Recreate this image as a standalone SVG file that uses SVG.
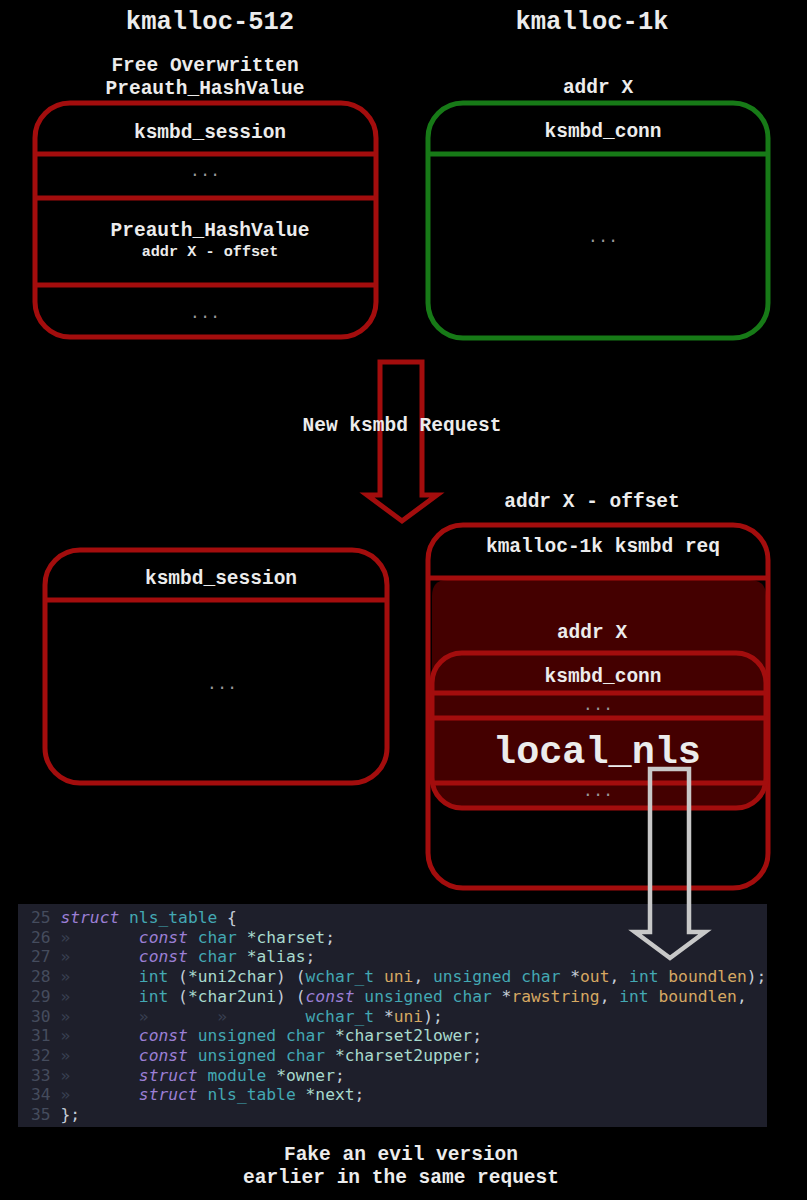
<svg xmlns="http://www.w3.org/2000/svg" width="807" height="1200" viewBox="0 0 807 1200">
<style>
.t{font-family:"Liberation Mono","Courier New",monospace;font-weight:bold;fill:#ececec;text-anchor:middle;font-size:19.5px}
.title{font-size:25.5px}
.sm{font-size:15.2px}
.big{font-size:38.5px}
.dots{font-family:"Liberation Mono",monospace;font-size:17px;fill:#9a9a9a;text-anchor:middle}
.red{fill:none;stroke:#a30d0d;stroke-width:5}
.grn{fill:none;stroke:#177a17;stroke-width:5}
.code{font-family:"DejaVu Sans Mono",monospace;font-size:16.3px;white-space:pre}
.ln{fill:#454c5d}
.tb{fill:#394052}
.kw{fill:#9c7fd6;font-style:italic}
.ty{fill:#43a8b3}
.id{fill:#a9dace}
.pu{fill:#c5cdd8}
.pa{fill:#d6a862}
</style>
<rect x="0" y="0" width="807" height="1200" fill="#000"/>

<text class="t title" x="210" y="29">kmalloc-512</text>
<text class="t title" x="592" y="29">kmalloc-1k</text>

<g id="slab512">
<text class="t" x="205" y="71">Free Overwritten</text>
<text class="t" x="205" y="94">Preauth_HashValue</text>
<rect class="red" x="35" y="103" width="341" height="234" rx="35"/>
<line class="red" x1="35" y1="154" x2="376" y2="154"/>
<line class="red" x1="35" y1="198" x2="376" y2="198"/>
<line class="red" x1="35" y1="285" x2="376" y2="285"/>
<text class="t" x="210" y="138">ksmbd_session</text>
<text class="dots" x="205" y="176">...</text>
<text class="t" x="210" y="236">Preauth_HashValue</text>
<text class="t sm" x="210" y="256">addr X - offset</text>
<text class="dots" x="205" y="318">...</text>
</g>

<g id="slab1k">
<text class="t" x="598" y="93">addr X</text>
<rect class="grn" x="428" y="103" width="340" height="235" rx="35"/>
<line class="grn" x1="428" y1="154" x2="768" y2="154"/>
<text class="t" x="603" y="137">ksmbd_conn</text>
<text class="dots" x="603" y="242">...</text>
</g>

<g id="session-after">
<rect class="red" x="45" y="550" width="342" height="233" rx="35"/>
<line class="red" x1="45" y1="600" x2="387" y2="600"/>
<text class="t" x="221" y="584">ksmbd_session</text>
<text class="dots" x="222" y="689">...</text>
</g>

<g id="request1k">
<text class="t" x="592" y="507">addr X - offset</text>
<path d="M447,580 H750 Q766,580 766,596 V778 Q766,808 736,808 H462 Q432,808 432,778 V596 Q432,580 447,580 Z" fill="#440000"/>
<rect class="red" x="428" y="525" width="340" height="363" rx="35"/>
<line class="red" x1="428" y1="578" x2="768" y2="578"/>
<rect class="red" x="432" y="653" width="334" height="155" rx="30"/>
<line class="red" x1="432" y1="693" x2="766" y2="693"/>
<line class="red" x1="432" y1="718" x2="766" y2="718"/>
<line class="red" x1="432" y1="783" x2="766" y2="783"/>
<text class="t" x="603" y="552">kmalloc-1k ksmbd req</text>
<text class="t" x="592" y="638">addr X</text>
<text class="t" x="603" y="682">ksmbd_conn</text>
<text class="dots" x="598" y="710">...</text>
<text class="t big" x="597" y="763">local_nls</text>
<text class="dots" x="598" y="796">...</text>
</g>

<g id="code">
<rect x="18" y="904" width="749" height="223" fill="#1e1f2b"/>
<g class="code">
<text xml:space="preserve" x="31" y="923"><tspan class="ln">25 </tspan><tspan class="kw">struct</tspan><tspan class="pu"> </tspan><tspan class="ty">nls_table</tspan><tspan class="pu"> {</tspan></text>
<text xml:space="preserve" x="31" y="942.7"><tspan class="ln">26 </tspan><tspan class="tb">»       </tspan><tspan class="kw">const</tspan> <tspan class="ty">char</tspan> <tspan class="id">*charset</tspan><tspan class="pu">;</tspan></text>
<text xml:space="preserve" x="31" y="962.4"><tspan class="ln">27 </tspan><tspan class="tb">»       </tspan><tspan class="kw">const</tspan> <tspan class="ty">char</tspan> <tspan class="id">*alias</tspan><tspan class="pu">;</tspan></text>
<text xml:space="preserve" x="31" y="982.1"><tspan class="ln">28 </tspan><tspan class="tb">»       </tspan><tspan class="ty">int</tspan><tspan class="pu"> (</tspan><tspan class="id">*uni2char</tspan><tspan class="pu">) (</tspan><tspan class="ty">wchar_t</tspan> <tspan class="pa">uni</tspan><tspan class="pu">, </tspan><tspan class="ty">unsigned char</tspan><tspan class="pu"> *</tspan><tspan class="pa">out</tspan><tspan class="pu">, </tspan><tspan class="ty">int</tspan> <tspan class="pa">boundlen</tspan><tspan class="pu">);</tspan></text>
<text xml:space="preserve" x="31" y="1001.8"><tspan class="ln">29 </tspan><tspan class="tb">»       </tspan><tspan class="ty">int</tspan><tspan class="pu"> (</tspan><tspan class="id">*char2uni</tspan><tspan class="pu">) (</tspan><tspan class="kw">const</tspan> <tspan class="ty">unsigned char</tspan><tspan class="pu"> *</tspan><tspan class="pa">rawstring</tspan><tspan class="pu">, </tspan><tspan class="ty">int</tspan> <tspan class="pa">boundlen</tspan><tspan class="pu">,</tspan></text>
<text xml:space="preserve" x="31" y="1021.5"><tspan class="ln">30 </tspan><tspan class="tb">»       »       »        </tspan><tspan class="ty">wchar_t</tspan><tspan class="pu"> *</tspan><tspan class="pa">uni</tspan><tspan class="pu">);</tspan></text>
<text xml:space="preserve" x="31" y="1041.2"><tspan class="ln">31 </tspan><tspan class="tb">»       </tspan><tspan class="kw">const</tspan> <tspan class="ty">unsigned char</tspan> <tspan class="id">*charset2lower</tspan><tspan class="pu">;</tspan></text>
<text xml:space="preserve" x="31" y="1060.9"><tspan class="ln">32 </tspan><tspan class="tb">»       </tspan><tspan class="kw">const</tspan> <tspan class="ty">unsigned char</tspan> <tspan class="id">*charset2upper</tspan><tspan class="pu">;</tspan></text>
<text xml:space="preserve" x="31" y="1080.6"><tspan class="ln">33 </tspan><tspan class="tb">»       </tspan><tspan class="kw">struct</tspan> <tspan class="ty">module</tspan> <tspan class="id">*owner</tspan><tspan class="pu">;</tspan></text>
<text xml:space="preserve" x="31" y="1100.3"><tspan class="ln">34 </tspan><tspan class="tb">»       </tspan><tspan class="kw">struct</tspan> <tspan class="ty">nls_table</tspan> <tspan class="id">*next</tspan><tspan class="pu">;</tspan></text>
<text xml:space="preserve" x="31" y="1120"><tspan class="ln">35 </tspan><tspan class="pu">};</tspan></text>
</g>
</g>

<g id="connectors">
<polygon points="380,362 422,362 422,495 437,495 402,521 367,495 380,495" fill="none" stroke="#a30d0d" stroke-width="5" stroke-linejoin="miter"/>
<polygon points="650,769 689,769 689,932 705,932 670,958 635,932 650,932" fill="none" stroke="#c8c8c8" stroke-width="4.5"/>
<text class="t" x="402" y="431">New ksmbd Request</text>
</g>

<g id="caption">
<text class="t" x="401" y="1160">Fake an evil version</text>
<text class="t" x="401" y="1183">earlier in the same request</text>
</g>
</svg>
